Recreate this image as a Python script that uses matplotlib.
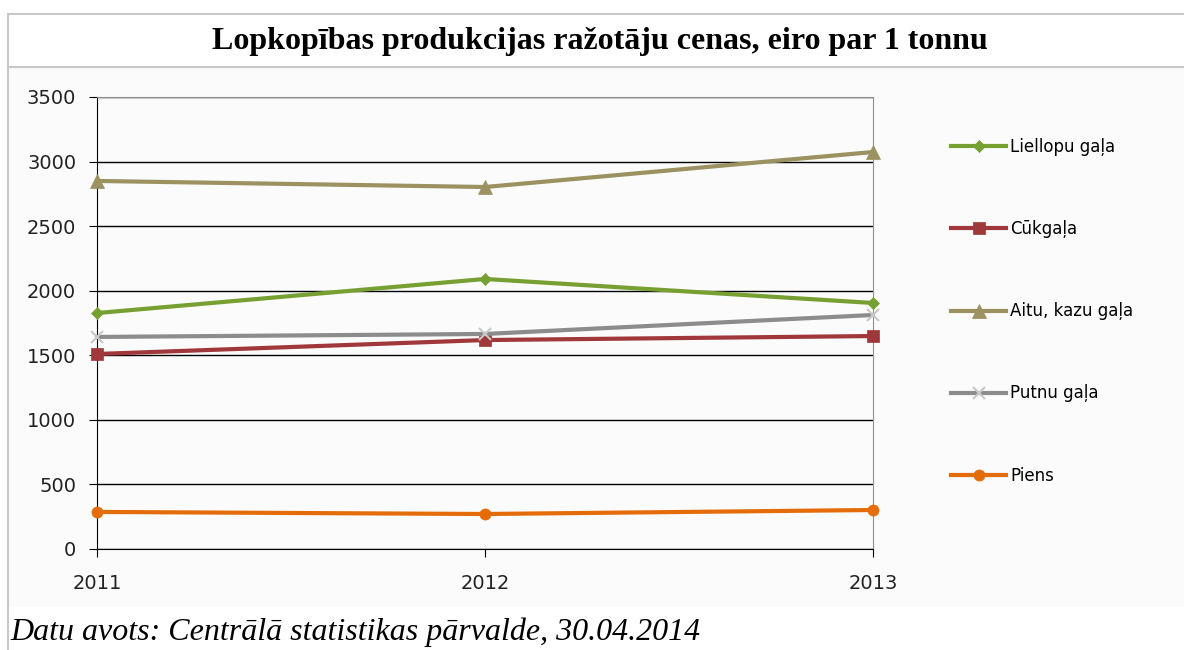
import matplotlib.pyplot as plt
from matplotlib.lines import Line2D
from matplotlib.patches import Rectangle

# Data
years = ['2011', '2012', '2013']
liellopu = [1827, 2091, 1905]
cukgala = [1510, 1618, 1649]
aitu = [2850, 2803, 3074]
putnu = [1642, 1665, 1812]
piens = [287, 271, 302]

labels = ['Liellopu gaļa', 'Cūkgaļa', 'Aitu, kazu gaļa', 'Putnu gaļa', 'Piens']
colors = ['#77a033', '#a0373a', '#9c9160', '#8c8c8c', '#e46c0a']
markers = ['D', 's', '^', 'x', 'o']
msizes = [6, 8, 10, 9, 8]

W, H = 1184, 650
fig = plt.figure(figsize=(W / 100, H / 100), dpi=100)

# chart background and borders
fig.add_artist(Rectangle((8 / W, 1 - 607 / H), 1 - 8 / W, (607 - 67) / H,
                         transform=fig.transFigure, facecolor='#fafbfa',
                         edgecolor='none', zorder=0))
fig.add_artist(Line2D([8 / W, 1], [1 - 14 / H, 1 - 14 / H], color='#c8c8c8', lw=1.5))
fig.add_artist(Line2D([8 / W, 1], [1 - 67 / H, 1 - 67 / H], color='#c8c8c8', lw=1.5))
fig.add_artist(Line2D([8 / W, 8 / W], [1 - 14 / H, 0], color='#c8c8c8', lw=1.5))

fig.text(600 / W, 1 - 41 / H, 'Lopkopības produkcijas ražotāju cenas, eiro par 1 tonnu',
         ha='center', va='center', fontsize=23, fontweight='bold',
         family='Liberation Serif')
fig.text(10 / W, 1 - 632 / H, 'Datu avots: Centrālā statistikas pārvalde, 30.04.2014',
         ha='left', va='center', fontsize=23, style='italic',
         family='Liberation Serif')

ax = fig.add_axes([97 / W, 1 - 549 / H, 776 / W, 452 / H])
ax.set_facecolor('none')

series = [liellopu, cukgala, aitu, putnu, piens]
x = range(len(years))
for vals, lab, c, m, ms in zip(series, labels, colors, markers, msizes):
    ax.plot(x, vals, color=c, lw=3, marker=m, markersize=ms,
            markeredgewidth=1.5 if m == 'x' else 0.5,
            markeredgecolor='#c8c8c8' if m == 'x' else c, label=lab,
            clip_on=False, zorder=3)

ax.set_xlim(0, 2)
ax.set_ylim(0, 3500)
ax.set_xticks(list(x))
ax.set_xticklabels(years)
ax.set_yticks(range(0, 3501, 500))
ax.yaxis.grid(True, color='black', lw=1)
ax.set_axisbelow(True)
for s in ['top', 'right']:
    ax.spines[s].set_color('#909090')
ax.spines['left'].set_color('black')
ax.spines['bottom'].set_color('black')
ax.tick_params(axis='both', direction='out', length=6, color='black',
               labelsize=14, labelcolor='#222222')
ax.tick_params(axis='y', pad=9)
ax.tick_params(axis='x', pad=12)

ax.legend(loc='upper left', bbox_to_anchor=(951 / W, 1 - 138 / H),
          bbox_transform=fig.transFigure, frameon=False, fontsize=12,
          handlelength=3.3, handletextpad=0.25, labelspacing=3.85,
          numpoints=1, borderaxespad=0, borderpad=0)

fig.savefig('out.png', dpi=100)
